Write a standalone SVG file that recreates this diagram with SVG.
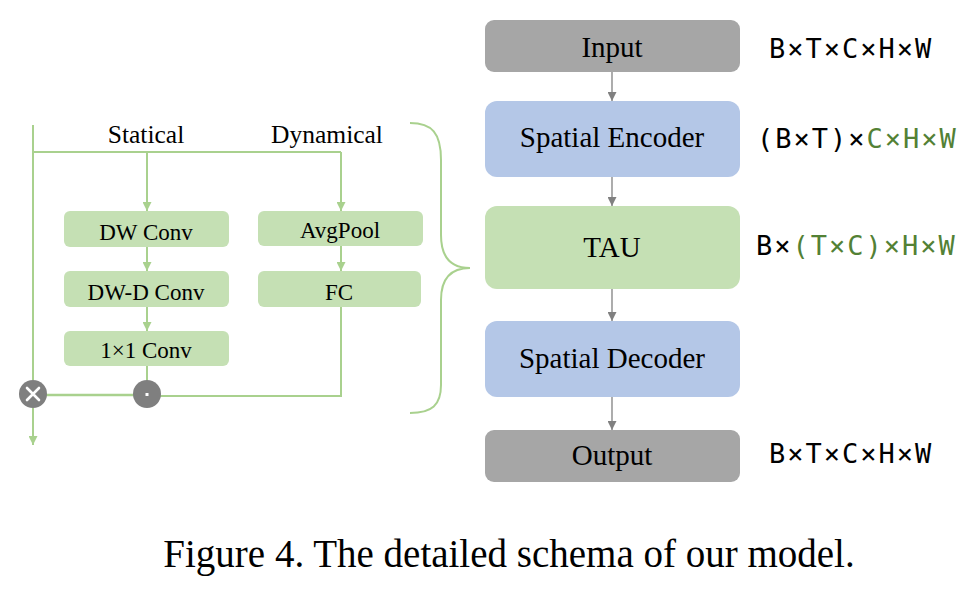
<svg xmlns="http://www.w3.org/2000/svg" width="980" height="598" viewBox="0 0 980 598">
<defs>
<style>
.serif{font-family:"Liberation Serif","Times New Roman",serif;fill:#000}
.mono{font-family:"DejaVu Sans Mono","Liberation Mono",monospace;font-size:27px;letter-spacing:2px;fill:#000}
.g{fill:#538135}
.big{font-size:29px;text-anchor:middle}
.small{font-size:23px;text-anchor:middle}
.lbl{font-size:25.5px;text-anchor:middle}
.gl{fill:none;stroke:#a9d18e;stroke-width:2}
.gray{fill:none;stroke:#808080;stroke-width:1.3}
.lbox{fill:#c5e0b4}
</style>
<marker id="ga" viewBox="0 0 10 10" refX="10" refY="5" markerWidth="9" markerHeight="9" markerUnits="userSpaceOnUse" orient="auto"><path d="M0,0 L10,5 L0,10 z" fill="#a9d18e"/></marker>
<marker id="ka" viewBox="0 0 10 10" refX="10" refY="5" markerWidth="9" markerHeight="9" markerUnits="userSpaceOnUse" orient="auto"><path d="M0,0 L10,5 L0,10 z" fill="#808080"/></marker>
</defs>
<rect width="980" height="598" fill="#fff"/>

<g id="connectors">
<path class="gl" d="M33,125 L33,380"/>
<path class="gl" d="M33,408 L33,445" marker-end="url(#ga)"/>
<path class="gl" d="M33,152 L341,152"/>
<path class="gl" d="M147,152 L147,211" marker-end="url(#ga)"/>
<path class="gl" d="M341,152 L341,211" marker-end="url(#ga)"/>
<path class="gl" d="M147,247 L147,271" marker-end="url(#ga)"/>
<path class="gl" d="M147,307 L147,331" marker-end="url(#ga)"/>
<path class="gl" d="M341,246 L341,271" marker-end="url(#ga)"/>
<path class="gl" d="M147,366 L147,381"/>
<path class="gl" d="M341,307 L341,396 L160,396"/>
<path class="gl" d="M46,395 L134,395" style="stroke-width:2.6"/>
<path class="gl" d="M410,123 C432,123 441,133 441,160 L441,235 C441,257 450,268 470,268 C450,268 441,279 441,300 L441,385 C441,405 432,413 410,413"/>
<path class="gray" d="M612,72 L612,101" marker-end="url(#ka)"/>
<path class="gray" d="M612,177 L612,206" marker-end="url(#ka)"/>
<path class="gray" d="M612,289 L612,321" marker-end="url(#ka)"/>
<path class="gray" d="M612,397 L612,430" marker-end="url(#ka)"/>
</g>

<text class="serif lbl" x="146" y="143">Statical</text>
<text class="serif lbl" x="327" y="143">Dynamical</text>

<g id="dwconv"><rect class="lbox" x="64" y="211" width="165" height="36" rx="6"/><text class="serif small" x="146" y="240">DW Conv</text></g>
<g id="dwdconv"><rect class="lbox" x="64" y="271" width="165" height="36" rx="6"/><text class="serif small" x="146" y="300">DW-D Conv</text></g>
<g id="conv1x1"><rect class="lbox" x="64" y="331" width="165" height="35" rx="6"/><text class="serif small" x="146" y="358">1×1 Conv</text></g>
<g id="avgpool"><rect class="lbox" x="258" y="211" width="165" height="35" rx="6"/><text class="serif small" x="340" y="238">AvgPool</text></g>
<g id="fc"><rect class="lbox" x="258" y="271" width="163" height="36" rx="6"/><text class="serif small" x="339" y="300">FC</text></g>

<g id="mul"><circle cx="33" cy="394" r="14" fill="#7f7f7f"/><path d="M27,388 L39,400 M39,388 L27,400" stroke="#fff" stroke-width="2.6" stroke-linecap="round"/></g>
<g id="dot"><circle cx="147" cy="394" r="14" fill="#7f7f7f"/><rect x="145.5" y="393" width="3" height="3" fill="#fff"/></g>

<g id="input"><rect x="485" y="20" width="255" height="52" rx="9" fill="#a6a6a6"/><text class="serif big" x="612" y="57">Input</text></g>
<g id="encoder"><rect x="485" y="101" width="255" height="76" rx="12" fill="#b4c7e7"/><text class="serif big" x="612" y="147">Spatial Encoder</text></g>
<g id="tau"><rect x="485" y="206" width="255" height="83" rx="12" fill="#c5e0b4"/><text class="serif big" x="612" y="257">TAU</text></g>
<g id="decoder"><rect x="485" y="321" width="255" height="76" rx="12" fill="#b4c7e7"/><text class="serif big" x="612" y="368">Spatial Decoder</text></g>
<g id="output"><rect x="485" y="430" width="255" height="52" rx="9" fill="#a6a6a6"/><text class="serif big" x="612" y="465">Output</text></g>

<text class="mono" x="769" y="58">B×T×C×H×W</text>
<text class="mono" x="757" y="148">(B×T)×<tspan class="g">C×H×W</tspan></text>
<text class="mono" x="756" y="255">B×<tspan class="g">(T×C)×H×W</tspan></text>
<text class="mono" x="769" y="463">B×T×C×H×W</text>

<text class="serif" x="509" y="567" style="font-size:39px;text-anchor:middle">Figure 4. The detailed schema of our model.</text>
</svg>
